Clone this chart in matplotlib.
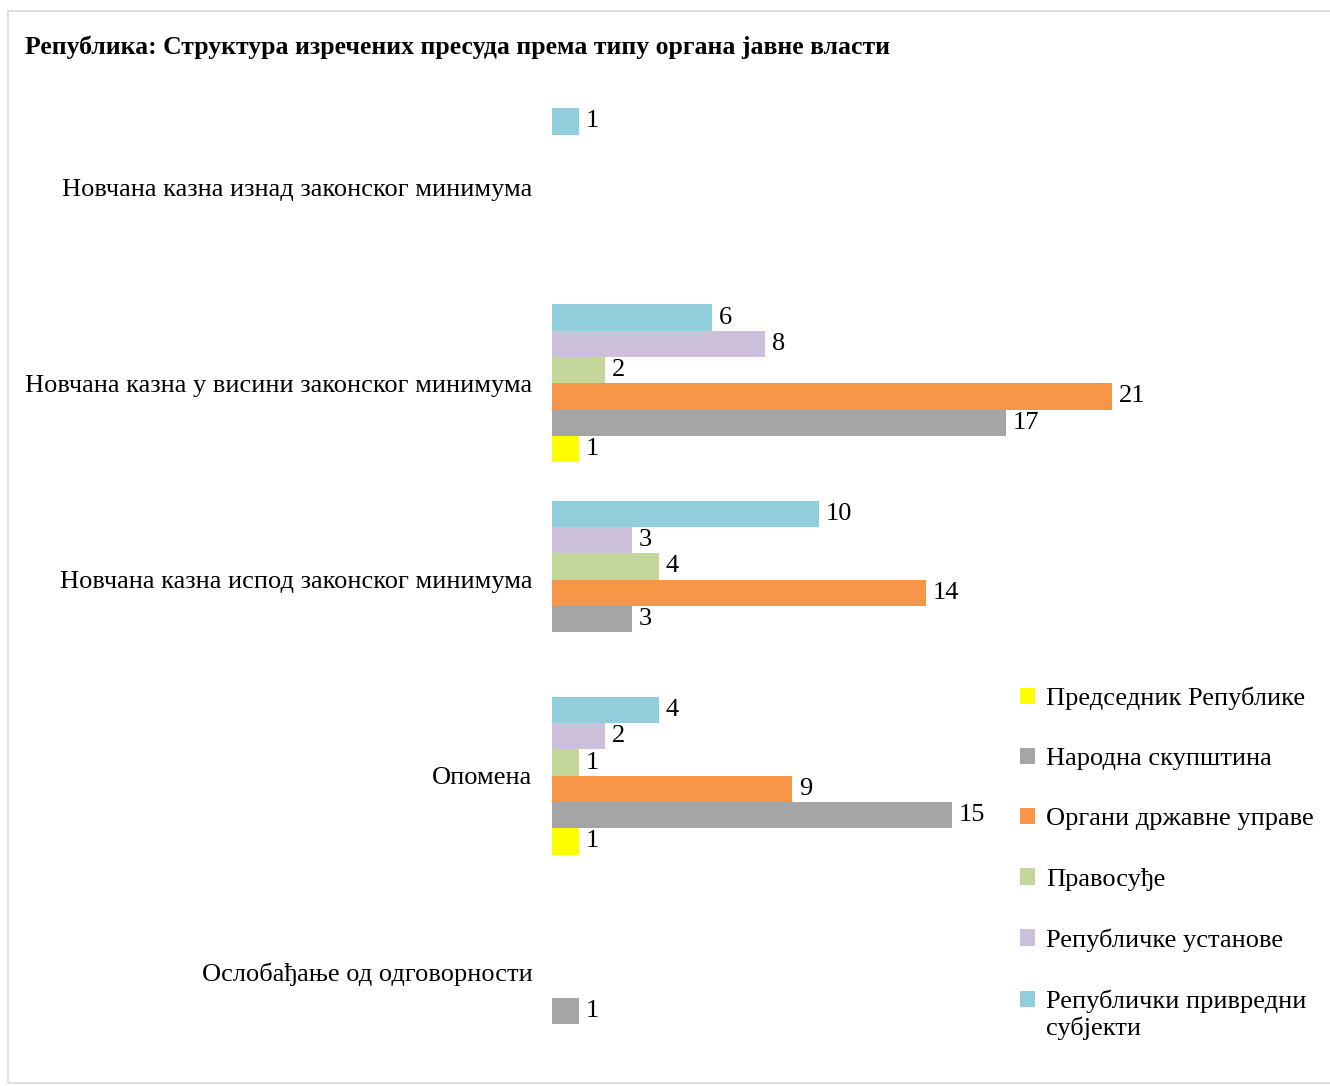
import numpy as np
import matplotlib
matplotlib.use("Agg")
import matplotlib.pyplot as plt
from matplotlib.patches import Rectangle
from matplotlib.legend_handler import HandlerPatch

plt.rcParams['font.family'] = ['Liberation Serif', 'DejaVu Serif']

title = 'Република: Структура изречених пресуда према типу органа јавне власти'

categories = ['Новчана казна изнад законског минимума',
              'Новчана казна у висини законског минимума',
              'Новчана казна испод законског минимума',
              'Опомена',
              'Ослобађање од одговорности']

# series, in legend order (top of legend first)
series = ['Председник Републике', 'Народна скупштина', 'Органи државне управе',
          'Правосуђе', 'Републичке установе', 'Републички привредни\nсубјекти']
predsednik = [0, 1, 0, 1, 0]
skupstina = [0, 17, 3, 15, 1]
organi = [0, 21, 14, 9, 0]
pravosudje = [0, 2, 4, 1, 0]
ustanove = [0, 8, 3, 2, 0]
privredni = [1, 6, 10, 4, 0]
values = [predsednik, skupstina, organi, pravosudje, ustanove, privredni]
colors = ['#FFFF00', '#A5A5A5', '#F79646', '#C4D79B', '#CCC0DA', '#92CDDC']

FS = 19

fig = plt.figure(figsize=(13.3, 10.86), dpi=100)
ax = fig.add_axes([552/1330, 16/1086, 667/1330, 981/1086])

y = np.arange(len(categories))
h = 0.134
n = len(series)
handles = []
for i, (vals, col) in enumerate(zip(values, colors)):
    off = (n - 1) / 2 * h - i * h
    bars = ax.barh(y + off, vals, height=h, color=col, linewidth=0, label=series[i])
    ax.bar_label(bars, labels=[str(v) if v else '' for v in vals], padding=5, fontsize=FS)
    handles.append(bars.patches[0])

ax.set_yticks(y)
ax.set_yticklabels(categories, fontsize=FS)
ax.tick_params(axis='y', length=0, pad=14)
ax.set_ylim(4.5, -0.5)
ax.set_xlim(0, 25)
ax.set_xticks([])
for s in ax.spines.values():
    s.set_visible(False)

fig.text(25/1330, 1 - 47/1086, title, fontsize=18.5, fontweight='bold', va='center', ha='left')


# legend key for the two-line label sits on the first line
def top_square(legend, orig_handle, xdescent, ydescent, width, height, fontsize):
    return Rectangle((-xdescent, -ydescent + fontsize * 0.55), width, height)


lg = fig.legend(handles=handles, labels=series, loc='upper left',
                bbox_to_anchor=(996/1330, 1 - 663/1086),
                frameon=False, fontsize=FS, handlelength=0.58, handleheight=0.58,
                handletextpad=0.42, labelspacing=1.42,
                handler_map={handles[-1]: HandlerPatch(patch_func=top_square)})

fig.patches.append(Rectangle((8/1330, 3/1086), 1, 1 - 14/1086, transform=fig.transFigure,
                             fill=False, edgecolor='#D9D9D9', linewidth=1.2))

fig.savefig('out.png', dpi=100)
